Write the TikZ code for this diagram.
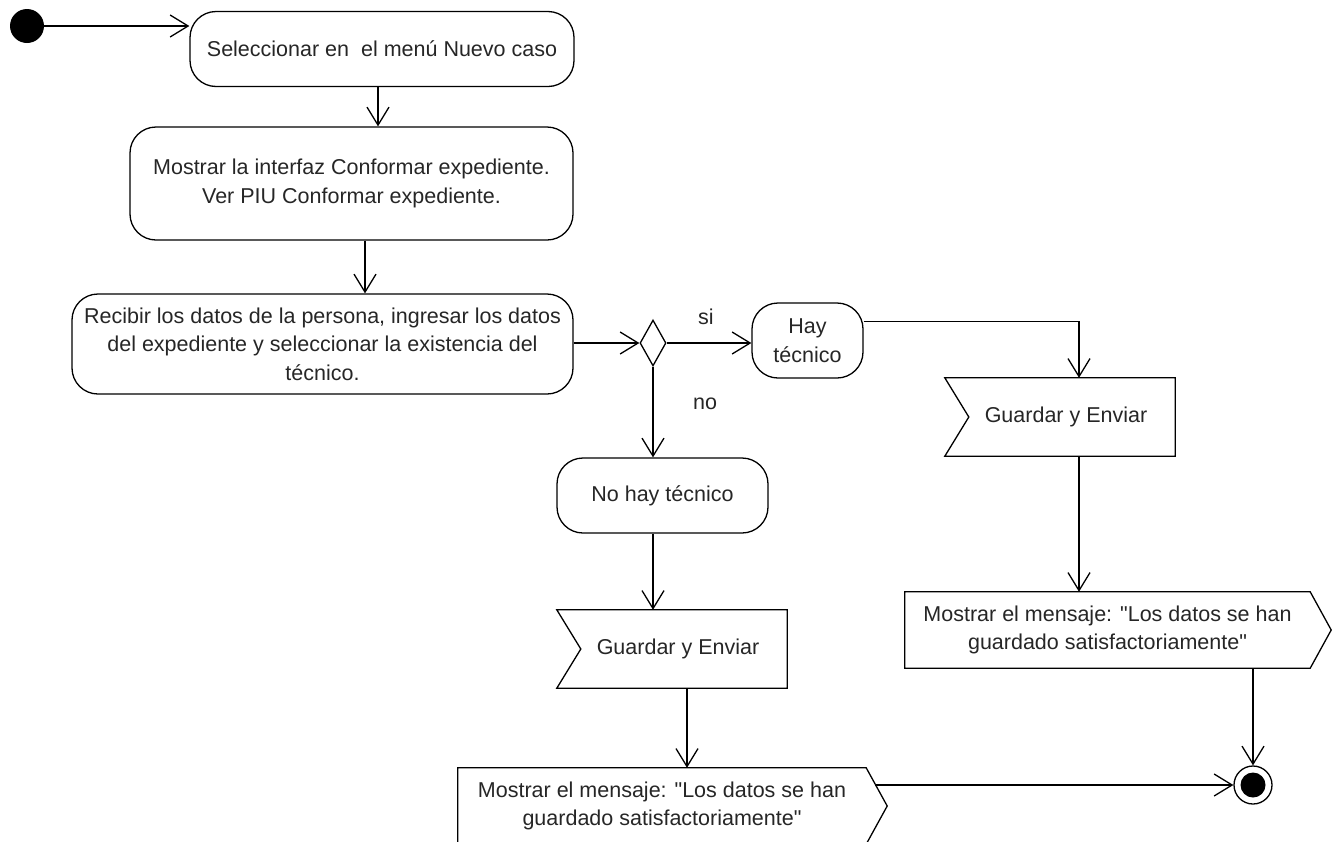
\documentclass[tikz,border=0pt]{standalone}
\usepackage{fontspec}
\setmainfont{Liberation Sans}[Ligatures=TeXOff]
\usetikzlibrary{arrows.meta,shapes.geometric,calc}
\begin{document}
\begin{tikzpicture}[x=1pt,y=-1pt,
  every node/.style={font=\fontsize{21.5}{28.5}\selectfont, text=black!85},
  action/.style={draw, rounded corners=26pt, line width=1.3pt, inner sep=0pt, align=center},
  sigbox/.style={inner sep=0pt, align=center},
  outline/.style={draw, line width=1.3pt, line join=miter},
  flow/.style={line width=1.3pt, -{Straight Barb[length=18pt,width=22pt,line width=1.3pt]}},
  plain/.style={line width=1.3pt}]
\useasboundingbox (0,0) rectangle (1340,841);

% column positions of the vertical flows
\coordinate (cA) at (378,0);
\coordinate (cB) at (365,0);
\coordinate (cC) at (1079,0);
\coordinate (cD) at (687,0);

% start and end
\node[circle, fill=black, minimum size=34pt, inner sep=0pt] (start) at (27,26) {};
\node[circle, draw, line width=1.3pt, minimum size=38pt, inner sep=0pt] (fin) at (1253,785) {};
\fill (fin) circle (12.5pt);

% actions
\node[action, minimum width=384, minimum height=75] (n1) at (382,49) {Seleccionar en\ \ el menú Nuevo caso};
\node[action, minimum width=443, minimum height=113] (n2) at (351.5,183.5)
  {Mostrar la interfaz Conformar expediente.\\Ver PIU Conformar expediente.};
\node[action, minimum width=501, minimum height=100] (n3) at (322.5,344)
  {Recibir los datos de la persona, ingresar los datos\\del expediente y seleccionar la existencia del\\técnico.};
\node[diamond, draw, line width=1.3pt, aspect=0.56, minimum width=26, minimum height=46, inner sep=0pt] (dia) at (653,343) {};
\node[action, minimum width=111, minimum height=75] (ht) at (807.5,340.5) {Hay\\técnico};
\node[action, minimum width=211, minimum height=75] (nh) at (662.5,495.5) {No hay técnico};

% signals: receive (notch on the left) and send (point on the right)
\node[sigbox, minimum width=230, minimum height=78] (g1) at (1060,417) {\hspace*{12pt}Guardar y Enviar};
\node[sigbox, minimum width=230, minimum height=78] (g2) at (672,649) {\hspace*{12pt}Guardar y Enviar};
\node[sigbox, minimum width=405, minimum height=76] (m1) at (1107.5,630)
  {Mostrar el mensaje: "Los datos se han\\guardado satisfactoriamente"};
\node[sigbox, minimum width=408, minimum height=76] (m2) at (662,806)
  {Mostrar el mensaje: "Los datos se han\\guardado satisfactoriamente"};

\foreach \g in {g1,g2}
  \path[outline] (\g.north west) -- (\g.north east) -- (\g.south east) -- (\g.south west)
    -- ($(\g.west)+(24,0)$) -- cycle;
\foreach \m in {m1,m2}
  \path[outline] (\m.north west) -- (\m.north east) -- ($(\m.east)+(21,0)$) -- (\m.south east)
    -- (\m.south west) -- cycle;

% guards
\node (si) at (706,317) {si};
\node (no) at (705,404) {no};

% flows
\draw[flow] (start) -- (start -| n1.west);
\draw[flow] (n1.south -| cA) -- (n2.north -| cA);
\draw[flow] (n2.south -| cB) -- (n3.north -| cB);
\draw[flow] (n3.east |- dia) -- (dia.west);
\draw[flow] (dia.east) -- (dia.east -| ht.west);
\draw[flow] (dia.south) -- (dia.south |- nh.north);
\draw[flow] ([yshift=19pt]ht.east) -| (g1.north -| cC);
\draw[flow] (g1.south -| cC) -- (m1.north -| cC);
\draw[flow] (m1.south -| fin) -- (fin.north);
\draw[flow] (nh.south -| dia) -- (g2.north -| dia);
\draw[flow] (g2.south -| cD) -- (m2.north -| cD);
\draw[flow] ($(m2.east |- fin)+(9,0)$) -- (fin.west);
\end{tikzpicture}
\end{document}
